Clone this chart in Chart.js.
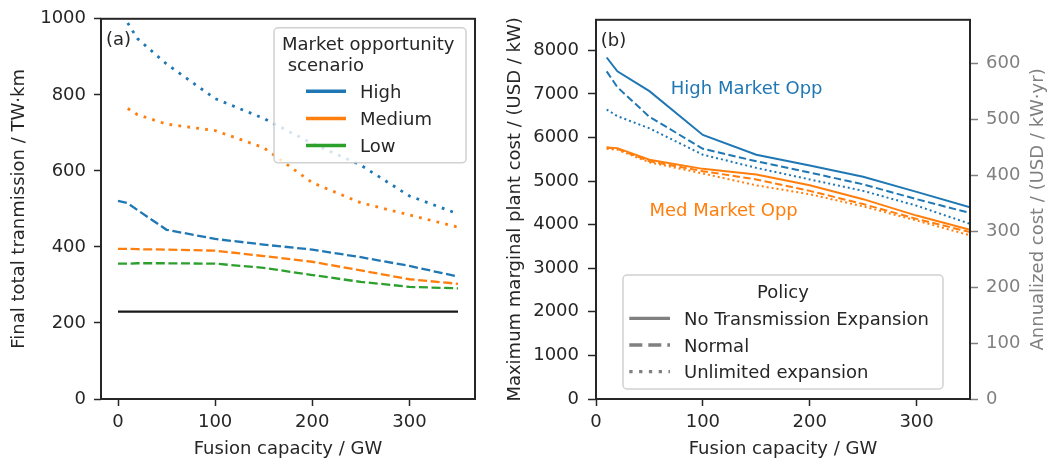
<!DOCTYPE html>
<html><head><meta charset="utf-8">
<script src="https://cdn.jsdelivr.net/npm/chart.js@4.4.1/dist/chart.umd.min.js"></script>
<style>
html,body{margin:0;padding:0;background:#fff;width:1049px;height:461px;overflow:hidden}
canvas{position:absolute;top:0}
#cL{left:0;width:490px;height:461px}
#cR{left:490px;width:559px;height:461px}
</style></head><body>
<canvas id="cL" width="490" height="461"></canvas>
<canvas id="cR" width="559" height="461"></canvas>
<script>
// ---------- Panel (a): final total transmission ----------
const capNormalA   = [0, 10, 20, 50, 100, 150, 200, 250, 300, 350];
const capUnlimA    = [10, 20, 50, 100, 150, 200, 250, 300, 350];
const capBaseA     = [0, 350];
const highNormalA  = [521, 515, 497, 445, 421, 406, 393, 373, 350, 322];
const medNormalA   = [395, 395, 394, 393, 390, 376, 361, 338, 315, 303];
const lowNormalA   = [356, 356, 357, 357, 356, 345, 326, 308, 295, 291];
const highUnlimA   = [989, 948, 881, 790, 738, 672, 615, 534, 487];
const medUnlimA    = [764, 748, 723, 706, 661, 569, 516, 484, 452];
const baseA        = [230, 230];
const xTicksA      = [0, 100, 200, 300];
const yTicksA      = [0, 200, 400, 600, 800, 1000];
const scenarioNames = ['High', 'Medium', 'Low'];

// ---------- Panel (b): maximum marginal plant cost ----------
const capB          = [10, 20, 50, 100, 150, 200, 250, 300, 350];
const highNoTransB  = [7835, 7517, 7064, 6058, 5605, 5355, 5099, 4752, 4397];
const highNormalB   = [7517, 7154, 6474, 5741, 5454, 5195, 4925, 4585, 4268];
const highUnlimB    = [6640, 6490, 6210, 5605, 5303, 5038, 4775, 4435, 4019];
const medNoTransB   = [5771, 5756, 5491, 5280, 5152, 4902, 4585, 4208, 3882];
const medNormalB    = [5771, 5740, 5454, 5227, 5038, 4775, 4472, 4132, 3830];
const medUnlimB     = [5740, 5720, 5430, 5174, 4902, 4698, 4419, 4095, 3755];
const xTicksB       = [0, 100, 200, 300];
const yTicksB       = [0, 1000, 2000, 3000, 4000, 5000, 6000, 7000, 8000];
const y2TicksB      = [0, 100, 200, 300, 400, 500, 600];
const policyNames   = ['No Transmission Expansion', 'Normal', 'Unlimited expansion'];

const BLUE = '#1f77b4', ORANGE = '#ff7f0e', GREEN = '#2ca02c';
const INK = '#262626', GRAY = '#808080';
const FONT = "'DejaVu Sans', 'Liberation Sans', sans-serif";
Chart.defaults.font.family = FONT;
Chart.defaults.font.size = 18;
Chart.defaults.color = INK;

const pts = (xs, ys) => xs.map((x, i) => ({x, y: ys[i]}));
const ds = (xs, ys, color, width, dash, axis) => ({
  data: pts(xs, ys), borderColor: color, borderWidth: width, borderDash: dash,
  borderCapStyle: 'butt', pointRadius: 0, fill: false, tension: 0, yAxisID: axis || 'y'
});
const setTicks = arr => s => { s.ticks = arr.map(v => ({value: v})); };
const plain = v => String(v);

const frame = {
  id: 'frame',
  afterDatasetsDraw(chart) {
    const {ctx, chartArea: a} = chart;
    ctx.save();
    ctx.strokeStyle = INK; ctx.lineWidth = 2;
    ctx.strokeRect(a.left, a.top, a.right - a.left, a.bottom - a.top);
    ctx.restore();
  }
};

function box(ctx, x, y, w, h) {
  ctx.save();
  ctx.beginPath();
  if (ctx.roundRect) ctx.roundRect(x, y, w, h, 4); else ctx.rect(x, y, w, h);
  ctx.fillStyle = 'rgba(255,255,255,0.8)'; ctx.fill();
  ctx.strokeStyle = 'rgba(204,204,204,0.9)'; ctx.lineWidth = 1.5; ctx.stroke();
  ctx.restore();
}
function handle(ctx, x1, x2, y, color, width, dash) {
  ctx.save();
  ctx.beginPath(); ctx.setLineDash(dash); ctx.lineCap = 'butt';
  ctx.strokeStyle = color; ctx.lineWidth = width;
  ctx.moveTo(x1, y); ctx.lineTo(x2, y); ctx.stroke();
  ctx.restore();
}

const decorA = {
  id: 'decorA',
  afterDraw(chart) {
    const {ctx, chartArea: a} = chart;
    ctx.save();
    ctx.font = '18px ' + FONT; ctx.fillStyle = INK; ctx.textBaseline = 'alphabetic';
    ctx.textAlign = 'left';
    ctx.fillText('(a)', a.left + 5, a.top + 26);
    const bx = a.right - 201, by = a.top + 9;
    box(ctx, bx, by, 192, 135);
    ctx.fillStyle = INK;
    ctx.fillText('Market opportunity', bx + 8, by + 21.7);
    ctx.fillText('scenario', bx + 8 + ctx.measureText(' ').width, by + 42.7);
    const cols = [BLUE, ORANGE, GREEN];
    const rows = [70, 97.3, 124.3];
    scenarioNames.forEach((n, i) => {
      handle(ctx, bx + 32, bx + 72, by + rows[i] - 6.6, cols[i], 3.5, []);
      ctx.fillStyle = INK;
      ctx.fillText(n, bx + 86, by + rows[i]);
    });
    ctx.restore();
  }
};

const decorB = {
  id: 'decorB',
  afterDraw(chart) {
    const {ctx, chartArea: a, scales} = chart;
    ctx.save();
    ctx.font = '18px ' + FONT; ctx.textBaseline = 'alphabetic'; ctx.textAlign = 'left';
    ctx.fillStyle = INK;
    ctx.fillText('(b)', a.left + 4.7, a.top + 26);
    ctx.fillStyle = BLUE;
    ctx.fillText('High Market Opp', scales.x.getPixelForValue(70), scales.y.getPixelForValue(7000));
    ctx.fillStyle = ORANGE;
    ctx.fillText('Med Market Opp', scales.x.getPixelForValue(50), scales.y.getPixelForValue(4200));
    ctx.save();
    ctx.fillStyle = GRAY; ctx.textAlign = 'center'; ctx.textBaseline = 'middle';
    ctx.translate(a.right + 68.6, (a.top + a.bottom) / 2);
    ctx.rotate(-Math.PI / 2);
    ctx.fillText('Annualized cost / (USD / kW\u00b7yr)', 0, 0);
    ctx.restore();
    const w = 320, h = 114;
    const bx = (a.left + a.right) / 2 - w / 2, by = a.bottom - 10 - h;
    box(ctx, bx, by, w, h);
    ctx.fillStyle = INK; ctx.textAlign = 'center';
    ctx.fillText('Policy', bx + w / 2, by + 23.3);
    ctx.textAlign = 'left';
    const dashes = [[], [13, 6], [3.3, 6.5]];
    const rows = [50, 76.7, 103.3];
    policyNames.forEach((n, i) => {
      handle(ctx, bx + 6.3, bx + 47, by + rows[i] - 6.7, GRAY, 3.3, dashes[i]);
      ctx.fillStyle = INK;
      ctx.fillText(n, bx + 61, by + rows[i]);
    });
    ctx.restore();
  }
};

const tickGrid = (len, color) => ({drawOnChartArea: false, drawTicks: true, tickLength: len, tickWidth: 1.5, tickColor: color, color: color});

new Chart(document.getElementById('cL'), {
  type: 'line',
  data: {datasets: [
    ds(capBaseA, baseA, '#1a1a1a', 2.3, []),
    ds(capNormalA, highNormalA, BLUE, 2.3, [9, 3.6]),
    ds(capNormalA, medNormalA, ORANGE, 2.3, [9, 3.6]),
    ds(capNormalA, lowNormalA, GREEN, 2.3, [9, 3.6]),
    ds(capUnlimA, highUnlimA, BLUE, 2.8, [2.8, 6.2]),
    ds(capUnlimA, medUnlimA, ORANGE, 2.8, [2.8, 6.2])
  ]},
  options: {
    responsive: false, animation: false, events: [],
    layout: {padding: {top: 15, right: 15, left: 0, bottom: 0}},
    plugins: {legend: {display: false}, tooltip: {enabled: false}},
    scales: {
      x: {type: 'linear', min: -17.5, max: 367.5,
          afterBuildTicks: setTicks(xTicksA), afterFit: s => { s.height = 62; },
          grid: tickGrid(7, INK), border: {display: false},
          ticks: {padding: 6, color: INK, maxRotation: 0, callback: plain},
          title: {display: true, text: 'Fusion capacity / GW', color: INK, padding: {top: 0, bottom: 1}}},
      y: {type: 'linear', min: 0, max: 1000,
          afterBuildTicks: setTicks(yTicksA), afterFit: s => { s.width = 101; },
          grid: tickGrid(7, INK), border: {display: false},
          ticks: {padding: 8, color: INK, callback: plain},
          title: {display: true, text: 'Final total tranmission / TW\u00b7km', color: INK, padding: {top: 9, bottom: 0}}}
    }
  },
  plugins: [frame, decorA]
});

new Chart(document.getElementById('cR'), {
  type: 'line',
  data: {datasets: [
    ds(capB, highNoTransB, BLUE, 2, []),
    ds(capB, highNormalB, BLUE, 2, [7.4, 3.4]),
    ds(capB, highUnlimB, BLUE, 2, [2, 3]),
    ds(capB, medNoTransB, ORANGE, 2, []),
    ds(capB, medNormalB, ORANGE, 2, [7.4, 3.4]),
    ds(capB, medUnlimB, ORANGE, 2, [2, 3])
  ]},
  options: {
    responsive: false, animation: false, events: [],
    layout: {padding: {top: 15, right: 0, left: 0, bottom: 0}},
    plugins: {legend: {display: false}, tooltip: {enabled: false}},
    scales: {
      x: {type: 'linear', min: 0, max: 350,
          afterBuildTicks: setTicks(xTicksB), afterFit: s => { s.height = 62; },
          grid: tickGrid(7, INK), border: {display: false},
          ticks: {padding: 6, color: INK, maxRotation: 0, callback: plain},
          title: {display: true, text: 'Fusion capacity / GW', color: INK, padding: {top: 0, bottom: 1}}},
      y: {type: 'linear', position: 'left', min: 0, max: 8700,
          afterBuildTicks: setTicks(yTicksB), afterFit: s => { s.width = 106; },
          grid: tickGrid(8, INK), border: {display: false},
          ticks: {padding: 9, color: INK, callback: plain},
          title: {display: true, text: 'Maximum marginal plant cost / (USD / kW)', color: INK, padding: {top: 14.5, bottom: 0}}},
      y2: {type: 'linear', position: 'right', min: 0, max: 677.6,
          afterBuildTicks: setTicks(y2TicksB), afterFit: s => { s.width = 79; },
          grid: tickGrid(8, GRAY), border: {display: false},
          ticks: {padding: 8, color: GRAY, callback: plain},
          title: {display: false}}
    }
  },
  plugins: [frame, decorB]
});
</script>
</body></html>
